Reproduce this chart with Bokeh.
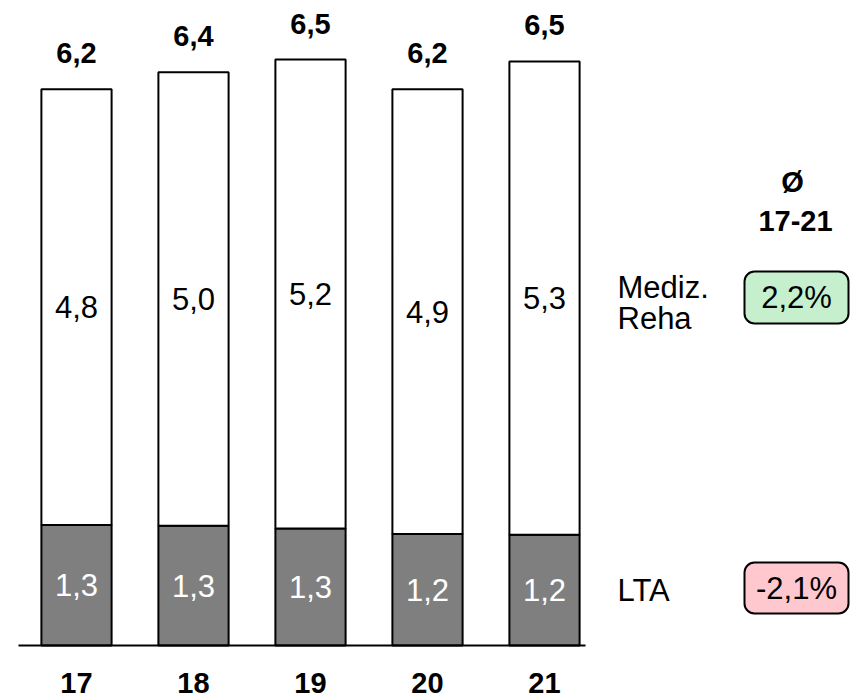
from bokeh.plotting import figure
from bokeh.models import ColumnDataSource, Range1d, Label
from bokeh.core.properties import value
from bokeh.embed import file_html
from bokeh.resources import INLINE

# ---- data ----
years = ["17", "18", "19", "20", "21"]
lta = [1.34, 1.33, 1.30, 1.24, 1.23]
reha = [4.84, 5.04, 5.21, 4.94, 5.26]
cagr_labels = ["2,2%", "-2,1%"]
series_labels = ["Mediz.\nReha", "LTA"]
header = ["Ø", "17-21"]

def fmt(v):
    return f"{v:.1f}".replace(".", ",")

W, H = 850, 698
FONT = "Liberation Sans"
FS = "31px"
FSB = "29px"

# pixel mapping helpers (for layout only)
X0, DX = 76, 117.0
Y0, DY = 645, 90.0
def xd(px):
    return (px - X0) / DX
def yd(py):
    return (Y0 - py) / DY

p = figure(width=W, height=H, output_backend="svg", toolbar_location=None,
           min_border=0, outline_line_color=None,
           x_range=Range1d(xd(0), xd(W)), y_range=Range1d(yd(H), yd(0)))
p.axis.visible = False
p.grid.visible = False
p.background_fill_color = "white"
p.border_fill_color = "white"

xs = list(range(len(years)))
tot = [a + b for a, b in zip(lta, reha)]
src = ColumnDataSource(dict(
    x=xs, lta=lta, tot=tot,
    mid_lta=[a / 2 for a in lta],
    mid_reha=[a + b / 2 for a, b in zip(lta, reha)],
    lab_lta=[fmt(v) for v in lta],
    lab_reha=[fmt(v) for v in reha],
    lab_tot=[fmt(v) for v in tot],
    lab_year=years,
    ytot=[t + 0.40 for t in tot],
    yyear=[yd(682)] * len(years),
))

p.vbar(x="x", bottom=0, top="lta", width=0.6, source=src,
       fill_color="#7f7f7f", line_color="black", line_width=2)
p.vbar(x="x", bottom="lta", top="tot", width=0.6, source=src,
       fill_color="white", line_color="black", line_width=2)

# baseline
p.segment(x0=[xd(18)], y0=[0], x1=[xd(585)], y1=[0],
          line_color="black", line_width=2)

p.text(x="x", y="mid_lta", text="lab_lta", source=src, text_color="white",
       text_font=value(FONT), text_font_size=FS, text_align="center",
       text_baseline="middle")
p.text(x="x", y="mid_reha", text="lab_reha", source=src, text_color="black",
       text_font=value(FONT), text_font_size=FS, text_align="center",
       text_baseline="middle")
p.text(x="x", y="ytot", text="lab_tot", source=src, text_color="black",
       text_font=value(FONT), text_font_size=FSB, text_font_style="bold",
       text_align="center", text_baseline="middle")
p.text(x="x", y="yyear", text="lab_year", source=src, text_color="black",
       text_font=value(FONT), text_font_size=FSB, text_font_style="bold",
       text_align="center", text_baseline="middle")

# right-side annotations
def label(txt, px, py, align="center", bold=False):
    p.add_layout(Label(x=xd(px), y=yd(py), text=txt, text_font=FONT,
                       text_font_size=FSB if bold else FS, text_align=align,
                       text_baseline="middle",
                       text_font_style="bold" if bold else "normal",
                       text_color="black"))

label(header[0], 792, 181, bold=True)
label(header[1], 795, 220, bold=True)
label("Mediz.", 617, 287, align="left")
label("Reha", 617, 318, align="left")
label(series_labels[1], 617, 590, align="left")

# rounded boxes
p.quad(left=[xd(744)], right=[xd(848)], top=[yd(271)], bottom=[yd(323)],
       fill_color="#c6efce", line_color="black", line_width=2, border_radius=10)
p.quad(left=[xd(744)], right=[xd(848)], top=[yd(562)], bottom=[yd(613)],
       fill_color="#ffc7ce", line_color="black", line_width=2, border_radius=10)
label(cagr_labels[0], 796, 297)
label(cagr_labels[1], 796, 588)

open("out.html", "w").write(file_html(p, INLINE))
